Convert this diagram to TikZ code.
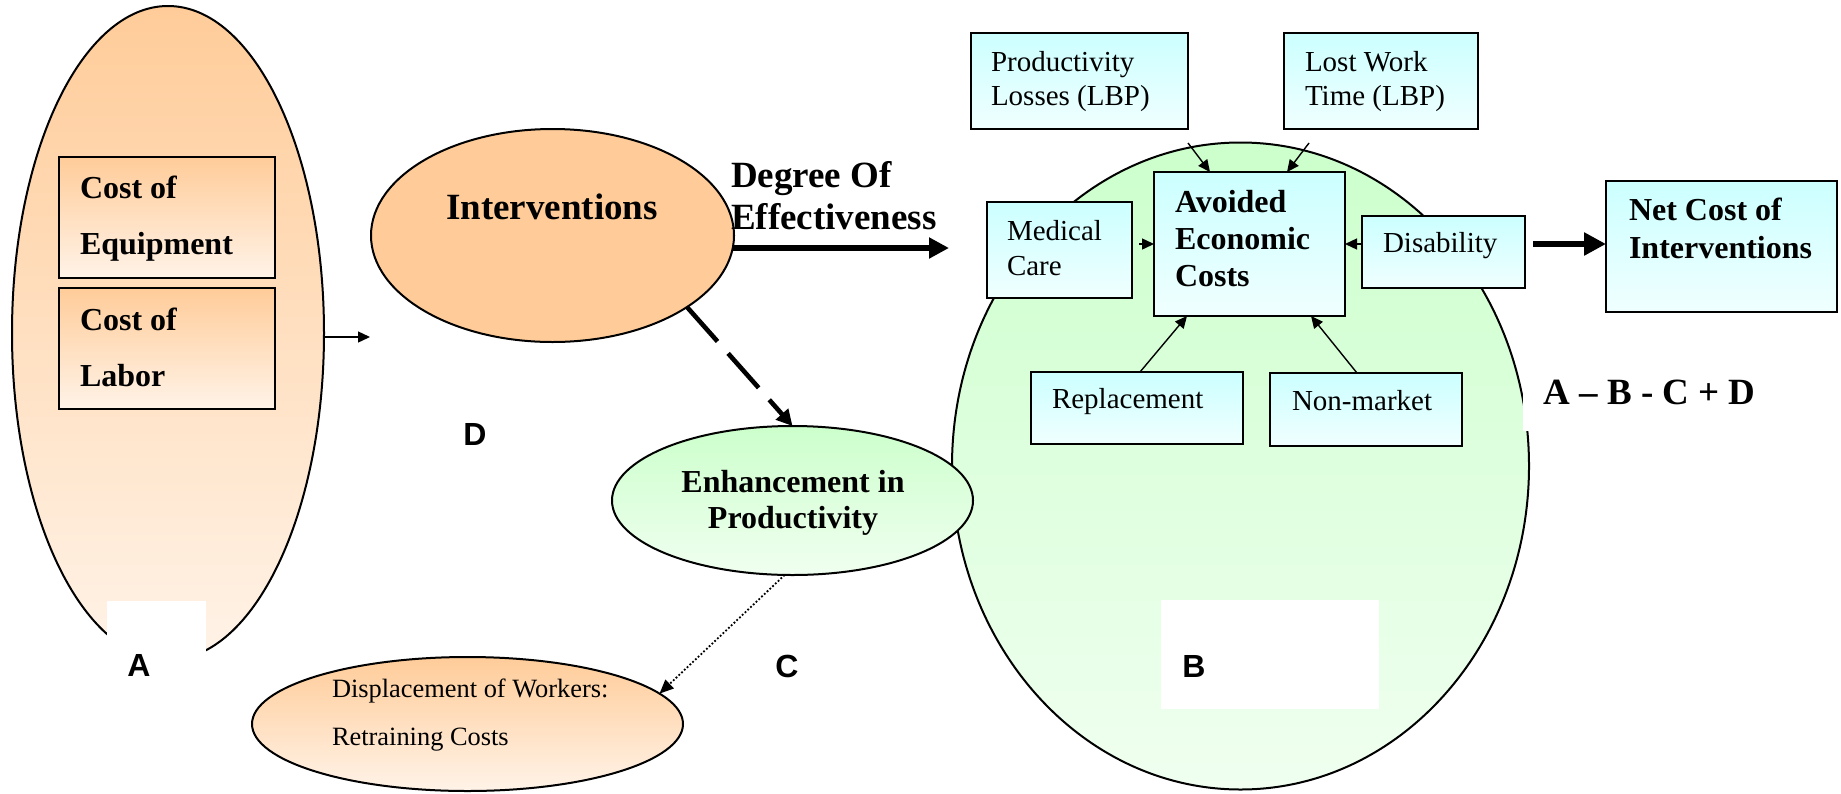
\documentclass[tikz,border=0pt]{standalone}
\usepackage{fontspec}
\setmainfont{Liberation Serif}
\newfontfamily\lblfont{Liberation Sans}
\usetikzlibrary{shapes.geometric,arrows.meta,calc,fit}

\definecolor{peach}{HTML}{FFCC99}
\definecolor{peachlt}{HTML}{FFF3E8}
\definecolor{mint}{HTML}{CCFFCC}
\definecolor{mintlt}{HTML}{F0FFF0}
\definecolor{aqua}{HTML}{CCFFFF}
\definecolor{aqualt}{HTML}{F0FFFF}

\tikzset{
  oval/.style={ellipse, draw=black, line width=1pt, inner sep=0pt, outer sep=0pt},
  peachfill/.style={top color=peach, bottom color=peachlt},
  mintfill/.style={top color=mint, bottom color=mintlt},
  costbox/.style={rectangle, draw=black, line width=1pt, inner sep=0pt, outer sep=0pt,
                  top color=peach, bottom color=peachlt},
  itembox/.style={rectangle, draw=black, line width=1pt, inner sep=0pt, outer sep=0pt,
                  top color=aqua, bottom color=aqualt},
  blank/.style={rectangle, fill=white, draw=none, inner sep=0pt, outer sep=0pt},
  % multi-line texts are placed by the baseline of their last line
  txt/.style={inner sep=0pt, outer sep=0pt, align=left, anchor=base west},
  bigb/.style={font=\fontsize{18.5}{21}\selectfont\bfseries},
  medb/.style={font=\fontsize{16}{18.5}\selectfont\bfseries},
  reg/.style={font=\fontsize{14.5}{17}\selectfont},
  letter/.style={inner sep=0pt, anchor=base, font=\lblfont\fontsize{16}{19}\selectfont\bfseries},
  thin/.style={line width=0.7pt, -{Triangle[length=6pt,width=5.5pt]}},
  heavy/.style={line width=2.8pt, -{Triangle[length=10pt,width=10pt]}},
}

\begin{document}
\begin{tikzpicture}[x=0.5pt,y=-0.5pt]
\useasboundingbox (0,0) rectangle (1841,793);

% ---- A: cost side ----
\node[oval, peachfill, minimum width=156pt, minimum height=327pt] (ova) at (168,333) {};
\node[blank, fit={(107,601) (206,700)}] (gapa) {};
\node[costbox, fit={(59,157) (275,278)}] (equip) {};
\node[costbox, fit={(59,288) (275,409)}] (labor) {};
\node[txt, font=\fontsize{16}{28}\selectfont\bfseries] (tequip) at (80,254) {Cost of\\Equipment};
\node[txt, font=\fontsize{16}{28}\selectfont\bfseries] (tlabor) at (80,386) {Cost of\\Labor};
\node[letter] (la) at (139,676) {A};

% ---- interventions ----
\node[oval, fill=peach, minimum width=181.5pt, minimum height=106.5pt] (intv) at (552.5,235.5) {};
\node[inner sep=0pt, anchor=base, bigb] (tintv) at (552,219) {Interventions};
\coordinate (aout) at (370,337);
\draw[thin] (ova.east |- aout) -- (aout);

\node[txt, bigb] (tdeg) at (731,229) {Degree Of\\Effectiveness};
\coordinate (degend) at (949,248);
\draw[heavy] (intv.-3.8 |- degend) -- (degend);

\node[letter] (ld) at (475,445) {D};

% ---- B: avoided costs ----
\node[oval, mintfill, minimum width=288.5pt, minimum height=323.5pt] (ovb) at (1240.5,466) {};
\node[blank, fit={(1161,600) (1379,709)}] (gapb) {};
\node[blank, fit={(1523,345) (1770,431)}] (gapf) {};
\node[letter] (lb) at (1194,677) {B};

\node[itembox, fit={(971,33) (1188,129)}] (pl) {};
\node[itembox, fit={(1284,33) (1478,129)}] (lw) {};
\node[itembox, fit={(1154,172) (1345,316)}] (av) {};
\node[itembox, fit={(987,202) (1132,298)}] (med) {};
\node[itembox, fit={(1362,216) (1525,288)}] (dis) {};
\node[itembox, fit={(1606,181) (1837,312)}] (net) {};
\node[itembox, fit={(1031,372) (1243,444)}] (rep) {};
\node[itembox, fit={(1270,373) (1462,446)}] (nm) {};

\node[txt, reg] (tpl) at (991,105) {Productivity\\Losses (LBP)};
\node[txt, reg] (tlw) at (1305,105) {Lost Work\\Time (LBP)};
\node[txt, medb] (tav) at (1175,286) {Avoided\\Economic\\Costs};
\node[txt, font=\fontsize{14.5}{17.5}\selectfont] (tmed) at (1007,275) {Medical\\Care};
\node[txt, reg] (tdis) at (1383,252) {Disability};
\node[txt, font=\fontsize{16}{19}\selectfont\bfseries] (tnet) at (1629,258) {Net Cost of\\Interventions};
\node[txt, reg] (trep) at (1052,408) {Replacement};
\node[txt, reg] (tnm) at (1292,410) {Non-market};

\draw[thin] ($(pl.south east)+(0,14)$) -- ($(av.north west)+(56,0)$);
\draw[thin] ($(lw.south west)+(25,14)$) -- ($(av.north west)+(133,0)$);
\draw[thin, shorten <=3.5pt] (med.east |- av.west) -- (av.west);
\draw[thin] (dis.west |- av.east) -- (av.east);
\draw[thin] ($(rep.north west)+(109,0)$) -- ($(av.south west)+(33,0)$);
\draw[thin] ($(nm.north west)+(87,0)$) -- ($(av.south east)+(-34,0)$);
\draw[heavy, line width=3pt, -{Triangle[length=11pt,width=11pt]}, shorten <=4pt] (dis.east |- av.east) -- (net.west |- av.east);

\node[inner sep=0pt, anchor=base west, bigb] (formula) at (1543,404) {A -- B - C + D};

% ---- C: productivity and displacement ----
\node[oval, mintfill, minimum width=180.5pt, minimum height=74.5pt] (enh) at (792.5,500.5) {};
\node[inner sep=0pt, anchor=base, align=center, font=\fontsize{16}{18}\selectfont\bfseries] (tenh) at (793,528) {Enhancement in\\Productivity};
\draw[line width=2.3pt, dash pattern=on 23pt off 8pt, -{Triangle[length=8pt,width=8pt]}] (intv.-28) -- (enh.north);

\node[oval, peachfill, minimum width=215.5pt, minimum height=67pt] (disp) at (467.5,724) {};
\node[txt, font=\fontsize{13.2}{24}\selectfont] (tdisp) at (332,745) {Displacement of Workers:\\Retraining Costs};
\draw[line width=0.9pt, densely dotted, -{Triangle[length=7pt,width=6pt]}] (enh.-96) -- (disp.9);
\node[letter] (lc) at (787,677) {C};

\end{tikzpicture}
\end{document}
